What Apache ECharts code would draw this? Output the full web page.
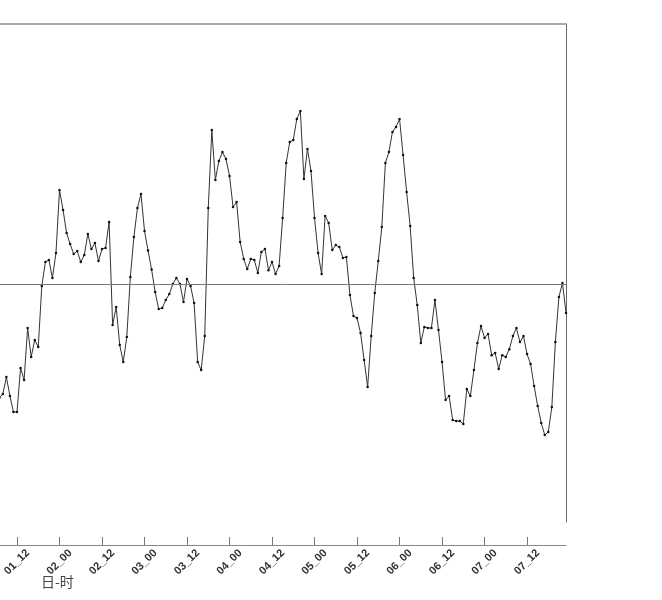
<!DOCTYPE html>
<html>
<head>
<meta charset="utf-8">
<script src="https://cdn.jsdelivr.net/npm/echarts@6/dist/echarts.min.js"></script>
<style>html,body{margin:0;padding:0;background:#fff;}#c{width:662px;height:600px;}</style>
</head>
<body>
<div id="c"></div>
<script>
// hourly categories from 01_07 to 07_23
const startDay = 1, startHour = 7, endDay = 7, endHour = 23;
const categories = [];
for (let d = startDay; d <= endDay; d++) {
  for (let h = 0; h < 24; h++) {
    if (d === startDay && h < startHour) continue;
    if (d === endDay && h > endHour) continue;
    categories.push(String(d).padStart(2, '0') + '_' + String(h).padStart(2, '0'));
  }
}
const values = [
  -4.34, -4.19, -3.54, -4.27, -4.88, -4.88, -3.19, -3.65, -1.66, -2.77, -2.12, -2.39, -0.05, 0.87, 0.95, 0.26, 1.22,
  3.63, 2.87, 1.98, 1.56, 1.18, 1.29, 0.87, 1.14, 1.95, 1.37, 1.60, 0.91,
  1.37, 1.41, 2.41, -1.54, -0.85, -2.31, -2.96, -2.00, 0.30, 1.83, 2.94, 3.48,
  2.06, 1.31, 0.58, -0.28, -0.93, -0.89, -0.59, -0.36, 0.03, 0.26, 0.03, -0.66,
  0.22, -0.05, -0.70, -2.96, -3.27, -1.97, 2.94, 5.93, 4.02, 4.75, 5.09, 4.82,
  4.17, 2.98, 3.17, 1.64, 0.99, 0.60, 0.99, 0.95, 0.45, 1.26, 1.37, 0.56,
  0.87, 0.41, 0.72, 2.56, 4.67, 5.47, 5.55, 6.36, 6.66, 4.06, 5.21, 4.36,
  2.56, 1.22, 0.41, 2.64, 2.37, 1.33, 1.52, 1.45, 1.03, 1.06, -0.39, -1.20,
  -1.28, -1.85, -2.89, -3.92, -1.97, -0.32, 0.91, 2.21, 4.67, 5.09, 5.86, 6.05,
  6.36, 4.98, 3.56, 2.25, 0.26, -0.78, -2.23, -1.62, -1.66, -1.66, -0.59, -1.74,
  -2.96, -4.42, -4.27, -5.19, -5.23, -5.23, -5.34, -4.00, -4.27, -3.27, -2.23, -1.58,
  -2.04, -1.89, -2.70, -2.62, -3.23, -2.70, -2.77, -2.47, -1.97, -1.66, -2.20, -1.97,
  -2.66, -3.04, -3.88, -4.65, -5.30, -5.76, -5.65, -4.69, -2.20, -0.47, 0.07, -1.08
];
const refValue = 0;
const yMin = -9.1, yMax = 10;
const axisName = '日-时';

const chart = echarts.init(document.getElementById('c'), null, {renderer: 'canvas'});
const showTick = (idx, val) => /_(00|12)$/.test(val);
chart.setOption({
  animation: false,
  backgroundColor: '#fff',
  grid: {left: -0.7, right: 96, top: 24, bottom: 78, containLabel: false, outerBoundsMode: 'none'},
  xAxis: [{
    type: 'category', data: categories, boundaryGap: false, position: 'bottom', offset: 23,
    axisLine: {show: true, onZero: false, lineStyle: {color: '#888', width: 1}},
    axisTick: {show: true, inside: true, length: 8, interval: showTick, lineStyle: {color: '#777'}},
    axisLabel: {interval: showTick, rotate: 45, align: 'center', verticalAlign: 'middle', fontSize: 11, fontWeight: 'bold', color: '#333', fontFamily: 'Liberation Sans', margin: 17, hideOverlap: false},
    splitLine: {show: false}
  }, {
    type: 'category', data: categories, boundaryGap: false, position: 'top',
    axisLine: {show: true, onZero: false, lineStyle: {color: '#aaa', width: 2}},
    axisTick: {show: false}, axisLabel: {show: false}, splitLine: {show: false}
  }],
  yAxis: [{
    type: 'value', min: yMin, max: yMax, position: 'left',
    axisLine: {show: false, onZero: false}, axisTick: {show: false}, axisLabel: {show: false}, splitLine: {show: false}
  }, {
    type: 'value', min: yMin, max: yMax, position: 'right',
    axisLine: {show: true, onZero: false, lineStyle: {color: '#666', width: 1}},
    axisTick: {show: false}, axisLabel: {show: false}, splitLine: {show: false}
  }],
  graphic: [{
    type: 'text', left: 41, top: 575,
    style: {text: axisName, fontSize: 14, fill: '#444', fontFamily: 'Noto Sans CJK SC'}
  }],
  series: [{
    type: 'line', data: values, xAxisIndex: 0, yAxisIndex: 0,
    symbol: 'circle', symbolSize: 2.5, showSymbol: true, showAllSymbol: true,
    itemStyle: {color: '#111'},
    lineStyle: {color: '#333', width: 1},
    markLine: {
      silent: true, symbol: 'none', label: {show: false},
      lineStyle: {color: '#777', width: 1, type: 'solid'},
      data: [{yAxis: refValue}]
    }
  }]
});
</script>
</body>
</html>
